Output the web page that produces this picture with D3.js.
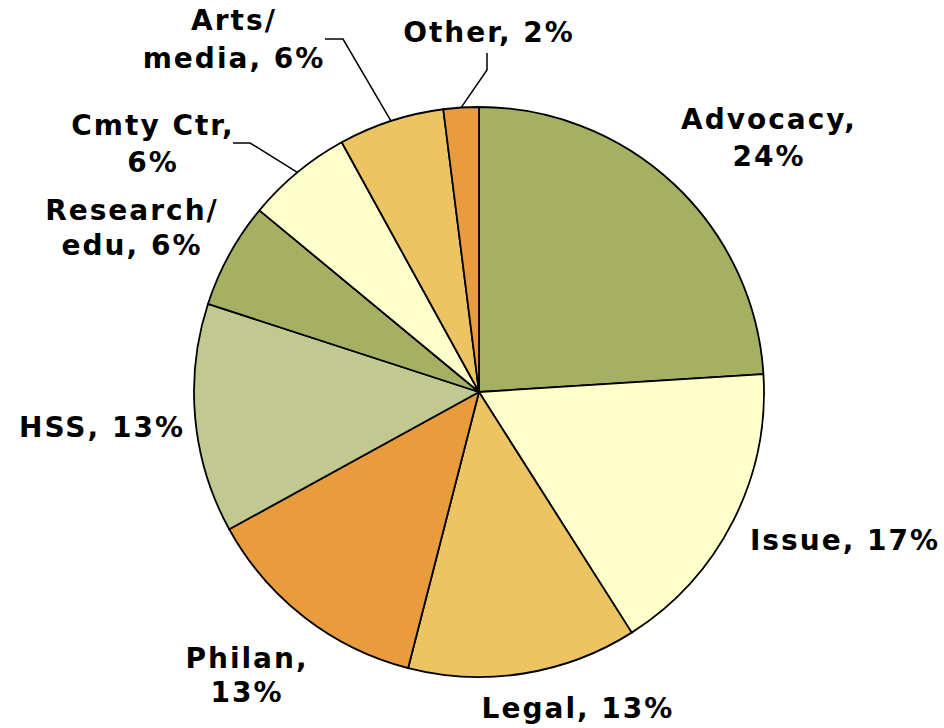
<!DOCTYPE html>
<html>
<head>
<meta charset="utf-8">
<script src="https://cdn.jsdelivr.net/npm/d3@7/dist/d3.min.js"></script>
<style>
  html, body { margin: 0; padding: 0; background: #fff; }
  svg { display: block; }
  text { font-family: "DejaVu Sans", Verdana, sans-serif; font-weight: bold; font-size: 28px; letter-spacing: 2px; fill: #000; }
</style>
</head>
<body>
<svg id="chart" width="944" height="728"></svg>
<script>
// Share of organisations by type (percent), clockwise from 12 o'clock
const categories = ["Advocacy", "Issue", "Legal", "Philan", "HSS", "Research/edu", "Cmty Ctr", "Arts/media", "Other"];
const values = [24, 17, 13, 13, 13, 6, 6, 6, 2];
const labelLines = [
  ["Advocacy,", "24%"],
  ["Issue, 17%"],
  ["Legal, 13%"],
  ["Philan,", "13%"],
  ["HSS, 13%"],
  ["Research/", "edu, 6%"],
  ["Cmty Ctr,", "6%"],
  ["Arts/", "media, 6%"],
  ["Other, 2%"]
];
const colors = ["#A6B062", "#FFFFCC", "#ECC562", "#E89C3D", "#C1C890", "#A6B062", "#FFFFCC", "#ECC562", "#E89C3D"];

// Layout
const cx = 479, cy = 392, radius = 285;
// label centre (x), first-line baseline (y), line spacing
const labelPos = [
  [769, 129, 37], [845, 550, 0], [578, 718, 0], [247, 668, 34], [102, 437, 0],
  [132, 220, 35], [153, 135, 37], [234, 30, 38], [489, 42, 0]
];
// leader line start + elbow for the small slices (index -> points)
const leaders = {
  6: [[233, 143], [250, 143]],
  7: [[325, 39], [343, 39]],
  8: [[487, 53], [487, 70]]
};

const svg = d3.select("#chart");
const g = svg.append("g").attr("transform", `translate(${cx},${cy})`);

const pie = d3.pie().sort(null).value(d => d)(values);
const arc = d3.arc().innerRadius(0).outerRadius(radius);

g.selectAll("path.slice")
  .data(pie)
  .join("path")
  .attr("class", "slice")
  .attr("d", arc)
  .attr("fill", (d, i) => colors[i])
  .attr("stroke", "#000")
  .attr("stroke-width", 1.8)
  .attr("stroke-linejoin", "round");

// Leader lines to the slice rim at its mid-angle
Object.entries(leaders).forEach(([k, pts]) => {
  const d = pie[+k];
  const a = (d.startAngle + d.endAngle) / 2;
  const end = [cx + radius * Math.sin(a), cy - radius * Math.cos(a)];
  svg.append("path")
    .attr("d", d3.line()([...pts, end]))
    .attr("fill", "none")
    .attr("stroke", "#000")
    .attr("stroke-width", 1.5);
});

// Labels
labelLines.forEach((lines, i) => {
  const [x, y, lh] = labelPos[i];
  const t = svg.append("text").attr("text-anchor", "middle");
  lines.forEach((ln, j) => {
    t.append("tspan").attr("x", x).attr("y", y + j * lh).text(ln);
  });
});
</script>
</body>
</html>
